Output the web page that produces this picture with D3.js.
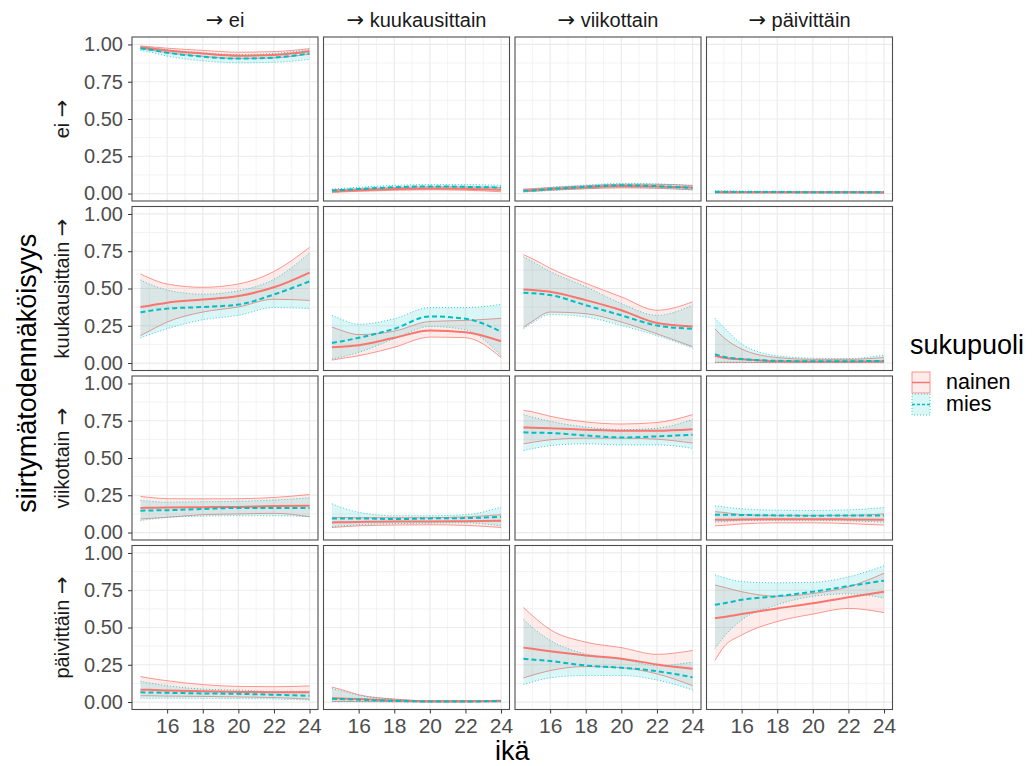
<!DOCTYPE html>
<html>
<head>
<meta charset="utf-8">
<script src="https://cdn.jsdelivr.net/npm/d3@7"></script>
<style>
body { margin: 0; background: #fff; }
text { font-family: "Liberation Sans", Arial, sans-serif; }
</style>
</head>
<body>
<script>
// ika-pisteet ja tilat
var ika = [14.5, 15, 16, 18, 20, 22, 24];
var tilat = ["ei", "kuukausittain", "viikottain", "päivittäin"];
var sukupuolet = ["nainen", "mies"];
var xTicks = [16, 18, 20, 22, 24];
var yTicks = [0, 0.25, 0.5, 0.75, 1];

// [mistä][mihin][ika]
var nainenEst = [
  [[0.98,0.975,0.96,0.94,0.925,0.93,0.955],[0.015,0.017,0.022,0.03,0.034,0.032,0.025],[0.02,0.023,0.03,0.042,0.05,0.048,0.04],[0.009,0.009,0.008,0.008,0.008,0.008,0.007]],
  [[0.376,0.385,0.405,0.426,0.45,0.508,0.607],[0.106,0.11,0.12,0.169,0.218,0.207,0.146],[0.494,0.49,0.478,0.422,0.354,0.268,0.245],[0.049,0.035,0.025,0.012,0.01,0.01,0.012]],
  [[0.165,0.166,0.168,0.17,0.172,0.178,0.18],[0.068,0.069,0.071,0.074,0.074,0.076,0.079],[0.705,0.703,0.70,0.69,0.683,0.683,0.693],[0.085,0.085,0.088,0.09,0.09,0.088,0.085]],
  [[0.083,0.082,0.078,0.072,0.068,0.066,0.065],[0.026,0.024,0.02,0.01,0.005,0.005,0.007],[0.365,0.357,0.34,0.312,0.29,0.252,0.223],[0.562,0.57,0.59,0.628,0.662,0.703,0.74]]
];
var nainenAla = [
  [[0.97,0.963,0.945,0.92,0.905,0.91,0.935],[0.008,0.01,0.015,0.022,0.025,0.022,0.012],[0.012,0.015,0.022,0.032,0.038,0.035,0.025],[0.004,0.004,0.004,0.004,0.004,0.004,0.003]],
  [[0.184,0.215,0.275,0.342,0.376,0.428,0.42],[0.02,0.03,0.049,0.106,0.174,0.17,0.037],[0.24,0.28,0.342,0.331,0.275,0.196,0.11],[0.004,0.004,0.004,0.003,0.003,0.003,0.003]],
  [[0.091,0.095,0.102,0.12,0.125,0.129,0.106],[0.034,0.038,0.045,0.05,0.052,0.048,0.034],[0.595,0.605,0.622,0.633,0.633,0.626,0.60],[0.045,0.048,0.058,0.065,0.065,0.06,0.05]],
  [[0.042,0.042,0.04,0.038,0.034,0.03,0.02],[0.004,0.004,0.003,0.002,0.001,0.001,0.002],[0.162,0.18,0.211,0.238,0.23,0.189,0.11],[0.279,0.37,0.449,0.54,0.59,0.628,0.60]]
];
var nainenYla = [
  [[0.99,0.985,0.975,0.96,0.948,0.952,0.972],[0.025,0.027,0.032,0.04,0.045,0.045,0.04],[0.03,0.033,0.04,0.052,0.062,0.062,0.055],[0.016,0.015,0.014,0.013,0.013,0.013,0.012]],
  [[0.598,0.57,0.53,0.508,0.53,0.614,0.776],[0.241,0.22,0.191,0.214,0.279,0.286,0.30],[0.727,0.70,0.636,0.535,0.444,0.354,0.41],[0.23,0.17,0.094,0.037,0.025,0.025,0.037]],
  [[0.242,0.236,0.227,0.226,0.227,0.235,0.255],[0.102,0.101,0.1,0.1,0.1,0.105,0.12],[0.82,0.81,0.78,0.742,0.728,0.738,0.791],[0.14,0.135,0.12,0.115,0.115,0.115,0.125]],
  [[0.171,0.16,0.143,0.117,0.105,0.103,0.108],[0.1,0.085,0.049,0.02,0.008,0.008,0.012],[0.635,0.58,0.486,0.402,0.365,0.32,0.346],[0.785,0.77,0.74,0.71,0.728,0.773,0.864]]
];
var miesEst = [
  [[0.975,0.966,0.945,0.918,0.905,0.912,0.94],[0.02,0.023,0.03,0.042,0.048,0.045,0.04],[0.018,0.021,0.03,0.045,0.055,0.05,0.038],[0.011,0.011,0.01,0.01,0.009,0.009,0.008]],
  [[0.34,0.35,0.365,0.376,0.392,0.46,0.548],[0.135,0.145,0.169,0.23,0.313,0.297,0.21],[0.471,0.468,0.456,0.388,0.32,0.252,0.23],[0.06,0.042,0.027,0.015,0.012,0.012,0.015]],
  [[0.147,0.148,0.15,0.158,0.165,0.165,0.165],[0.095,0.095,0.095,0.09,0.095,0.097,0.106],[0.672,0.67,0.668,0.651,0.638,0.645,0.656],[0.12,0.12,0.118,0.115,0.113,0.115,0.115]],
  [[0.065,0.064,0.062,0.058,0.055,0.049,0.042],[0.022,0.02,0.016,0.008,0.004,0.004,0.006],[0.29,0.285,0.275,0.245,0.23,0.207,0.166],[0.652,0.662,0.686,0.71,0.74,0.778,0.814]]
];
var miesAla = [
  [[0.96,0.95,0.922,0.89,0.877,0.88,0.9],[0.01,0.013,0.02,0.03,0.035,0.032,0.025],[0.01,0.013,0.02,0.033,0.042,0.037,0.025],[0.005,0.005,0.005,0.005,0.005,0.004,0.004]],
  [[0.169,0.19,0.23,0.29,0.32,0.372,0.365],[0.027,0.04,0.072,0.162,0.245,0.223,0.049],[0.23,0.27,0.325,0.309,0.252,0.184,0.101],[0.005,0.005,0.005,0.004,0.004,0.004,0.004]],
  [[0.08,0.088,0.102,0.11,0.113,0.113,0.106],[0.039,0.044,0.052,0.06,0.063,0.065,0.045],[0.55,0.562,0.583,0.595,0.588,0.588,0.565],[0.07,0.073,0.08,0.082,0.082,0.078,0.07]],
  [[0.026,0.026,0.026,0.025,0.023,0.02,0.013],[0.003,0.003,0.003,0.002,0.001,0.001,0.002],[0.117,0.135,0.162,0.178,0.178,0.148,0.081],[0.359,0.437,0.55,0.652,0.709,0.726,0.698]]
];
var miesYla = [
  [[0.988,0.98,0.965,0.945,0.932,0.94,0.965],[0.03,0.034,0.042,0.055,0.06,0.06,0.055],[0.028,0.031,0.042,0.057,0.068,0.065,0.052],[0.019,0.018,0.017,0.016,0.015,0.015,0.014]],
  [[0.557,0.53,0.49,0.462,0.485,0.562,0.738],[0.32,0.295,0.26,0.297,0.372,0.372,0.394],[0.711,0.68,0.614,0.512,0.399,0.32,0.388],[0.30,0.24,0.128,0.049,0.033,0.03,0.053]],
  [[0.215,0.21,0.204,0.207,0.21,0.218,0.233],[0.193,0.17,0.136,0.113,0.113,0.12,0.17],[0.791,0.775,0.746,0.708,0.69,0.70,0.758],[0.18,0.172,0.16,0.15,0.148,0.152,0.168]],
  [[0.139,0.128,0.11,0.087,0.08,0.072,0.072],[0.09,0.076,0.045,0.02,0.008,0.008,0.012],[0.555,0.50,0.414,0.323,0.29,0.245,0.268],[0.853,0.835,0.808,0.80,0.803,0.84,0.914]]
];

var vari = {nainen: "#F8766D", mies: "#00BFC4"};
var viiva = {nainen: null, mies: "5,3"};
var reuna = {nainen: null, mies: "1,2"};

var w = 1032, h = 766;
var pw = 186, ph = 164, gap = 5.5, left0 = 132, top0 = 37;

var svg = d3.select("body").append("svg")
  .attr("width", w).attr("height", h);

var x = d3.scaleLinear().domain([14.025, 24.475]).range([0, pw]);
var y = d3.scaleLinear().domain([-0.05, 1.05]).range([ph, 0]);

var area = d3.area().x(function(d){ return x(d.a); })
  .y0(function(d){ return y(d.lo); }).y1(function(d){ return y(d.hi); })
  .curve(d3.curveMonotoneX);
function line(key) {
  return d3.line().x(function(d){ return x(d.a); })
    .y(function(d){ return y(d[key]); }).curve(d3.curveMonotoneX);
}

var defs = svg.append("defs");

tilat.forEach(function(mista, i) {
  tilat.forEach(function(mihin, j) {
    var g = svg.append("g")
      .attr("transform", "translate(" + (left0 + j*(pw+gap)) + "," + (top0 + i*(ph+gap)) + ")");

    g.append("rect").attr("width", pw).attr("height", ph).attr("fill", "#fff");

    // minor grid
    [15, 17, 19, 21, 23].forEach(function(v){
      g.append("line").attr("x1", x(v)).attr("x2", x(v)).attr("y1", 0).attr("y2", ph)
        .attr("stroke", "#EBEBEB").attr("stroke-width", 0.6);
    });
    [0.125, 0.375, 0.625, 0.875].forEach(function(v){
      g.append("line").attr("x1", 0).attr("x2", pw).attr("y1", y(v)).attr("y2", y(v))
        .attr("stroke", "#EBEBEB").attr("stroke-width", 0.6);
    });
    // major grid
    xTicks.forEach(function(v){
      g.append("line").attr("x1", x(v)).attr("x2", x(v)).attr("y1", 0).attr("y2", ph)
        .attr("stroke", "#EBEBEB").attr("stroke-width", 1.2);
    });
    yTicks.forEach(function(v){
      g.append("line").attr("x1", 0).attr("x2", pw).attr("y1", y(v)).attr("y2", y(v))
        .attr("stroke", "#EBEBEB").attr("stroke-width", 1.2);
    });

    var sarjat = {
      nainen: ika.map(function(a, k){ return {a: a, est: nainenEst[i][j][k], lo: nainenAla[i][j][k], hi: nainenYla[i][j][k]}; }),
      mies: ika.map(function(a, k){ return {a: a, est: miesEst[i][j][k], lo: miesAla[i][j][k], hi: miesYla[i][j][k]}; })
    };

    sukupuolet.forEach(function(s){
      g.append("path").attr("d", area(sarjat[s]))
        .attr("fill", vari[s]).attr("fill-opacity", 0.14).attr("stroke", "none");
      ["lo", "hi"].forEach(function(k){
        g.append("path").attr("d", line(k)(sarjat[s]))
          .attr("fill", "none").attr("stroke", vari[s]).attr("stroke-opacity", 0.75)
          .attr("stroke-width", 1).attr("stroke-dasharray", reuna[s]);
      });
    });
    sukupuolet.forEach(function(s){
      g.append("path").attr("d", line("est")(sarjat[s]))
        .attr("fill", "none").attr("stroke", vari[s])
        .attr("stroke-width", 2).attr("stroke-dasharray", viiva[s]);
    });

    g.append("rect").attr("width", pw).attr("height", ph)
      .attr("fill", "none").attr("stroke", "#4d4d4d").attr("stroke-width", 1.1);

    if (j == 0) {
      var ay = g.append("g").call(d3.axisLeft(y).tickValues(yTicks)
        .tickFormat(d3.format(".2f")).tickSize(4).tickPadding(5));
      ay.select(".domain").remove();
      ay.selectAll("line").attr("stroke", "#333");
      ay.selectAll("text").attr("fill", "#4D4D4D").style("font-size", "20px")
        .style("font-family", "'Liberation Sans', Arial, sans-serif");
    }
    if (i == 3) {
      var ax = g.append("g").attr("transform", "translate(0," + ph + ")")
        .call(d3.axisBottom(x).tickValues(xTicks).tickSize(4).tickPadding(5));
      ax.select(".domain").remove();
      ax.selectAll("line").attr("stroke", "#333");
      ax.selectAll("text").attr("fill", "#4D4D4D").style("font-size", "21px")
        .style("font-family", "'Liberation Sans', Arial, sans-serif");
    }
  });
});

// sarakkeiden otsikot
tilat.forEach(function(t, j){
  var tx = svg.append("text")
    .attr("x", left0 + j*(pw+gap) + pw/2).attr("y", 27)
    .attr("text-anchor", "middle").attr("font-size", 20).attr("fill", "#1a1a1a");
  tx.append("tspan").style("font-family", "'DejaVu Sans', sans-serif").attr("font-size", 21).text("→");
  tx.append("tspan").text(" " + t);
});

// rivien otsikot (leikattu paneelin korkeuteen)
tilat.forEach(function(t, i){
  var ty = top0 + i*(ph+gap);
  defs.append("clipPath").attr("id", "rivi" + i)
    .append("rect").attr("x", 40).attr("y", ty).attr("width", 40).attr("height", ph);
  var tx = svg.append("g").attr("clip-path", "url(#rivi" + i + ")")
    .append("text")
    .attr("transform", "translate(69," + (ty + ph/2) + ") rotate(-90)")
    .attr("text-anchor", "middle").attr("font-size", 20).attr("fill", "#1a1a1a");
  tx.append("tspan").text(t + " ");
  tx.append("tspan").style("font-family", "'DejaVu Sans', sans-serif").attr("font-size", 21).text("→");
});

// akselien otsikot
svg.append("text").attr("x", left0 + (4*pw + 3*gap)/2).attr("y", 760)
  .attr("text-anchor", "middle").attr("font-size", 27).text("ikä");
svg.append("text")
  .attr("transform", "translate(36," + (top0 + (4*ph + 3*gap)/2) + ") rotate(-90)")
  .attr("text-anchor", "middle").attr("font-size", 27).text("siirtymätodennäköisyys");

// selite
var leg = svg.append("g");
leg.append("text").attr("x", 910).attr("y", 354).attr("font-size", 27).text("sukupuoli");
sukupuolet.forEach(function(s, k){
  var ky = 372 + k*22;
  leg.append("rect").attr("x", 912).attr("y", ky).attr("width", 18).attr("height", 21)
    .attr("fill", vari[s]).attr("fill-opacity", 0.14)
    .attr("stroke", vari[s]).attr("stroke-opacity", 0.75).attr("stroke-dasharray", reuna[s]);
  leg.append("line").attr("x1", 912).attr("x2", 930).attr("y1", ky + 10.5).attr("y2", ky + 10.5)
    .attr("stroke", vari[s]).attr("stroke-width", 1.5).attr("stroke-dasharray", s == "mies" ? "3,2" : null);
  leg.append("text").attr("x", 946).attr("y", ky + 17).attr("font-size", 21.5).text(s);
});
</script>
</body>
</html>
